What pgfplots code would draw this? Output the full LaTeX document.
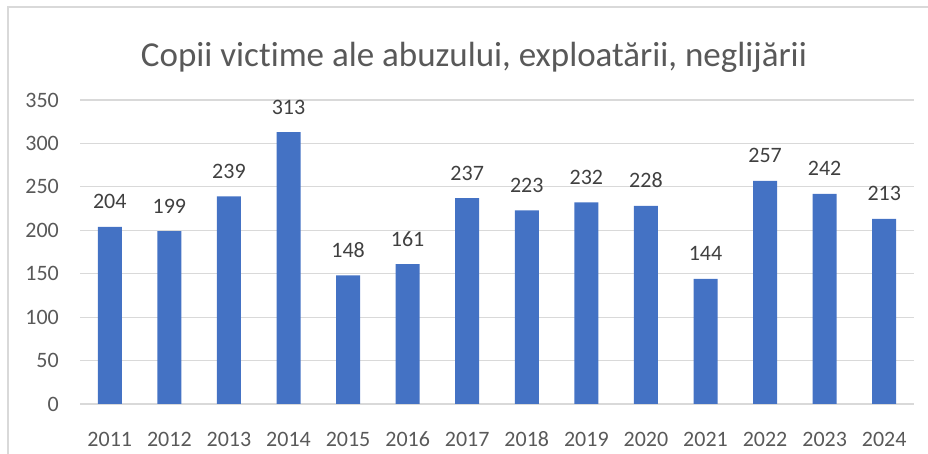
\documentclass[border=0pt]{standalone}
\usepackage{pgfplots}
\pgfplotsset{compat=1.18}
\usepackage{fontspec}
\setmainfont[Ligatures={NoCommon}]{Carlito}
\definecolor{barblue}{HTML}{4472C4}
\definecolor{gridgray}{HTML}{D9D9D9}
\definecolor{txtgray}{HTML}{595959}
\definecolor{lblgray}{HTML}{404040}
\begin{document}
\begin{tikzpicture}[x=1pt,y=1pt]
\useasboundingbox (0,0) rectangle (928,454);
\draw[gridgray, line width=1.5pt] (8,-20) rectangle (960,447);
\node[txtgray, font=\fontsize{35}{40}\selectfont, anchor=base] at (474,387) {Copii vict\kern0pt ime ale abuzului, exploatării, neglijării};
\begin{axis}[
  at={(80pt,50pt)}, anchor=south west,
  scale only axis, width=834pt, height=304pt,
  xmin=-0.5, xmax=13.5, ymin=0, ymax=350,
  ytick={0,50,...,350},
  xtick=data,
  xticklabels={2011,2012,2013,2014,2015,2016,2017,2018,2019,2020,2021,2022,2023,2024},
  ymajorgrids, grid style={gridgray, line width=1.2pt},
  axis line style={draw=none}, tick style={draw=none},
  /pgf/number format/assume math mode=true,
  ticklabel style={font=\fontsize{22}{26}\selectfont, text=txtgray, inner sep=0pt},
  yticklabel style={anchor=east, xshift=-21pt},
  xticklabel style={anchor=base, yshift=-38pt},
  ybar, bar width=24pt,
  nodes near coords,
  every node near coord/.append style={font=\fontsize{22}{26}\selectfont, text=lblgray, anchor=base, inner sep=0pt, yshift=18pt},
]
\addplot[fill=barblue, draw=none] coordinates {
(0,204) (1,199) (2,239) (3,313) (4,148) (5,161) (6,237) (7,223) (8,232) (9,228) (10,144) (11,257) (12,242) (13,213)};
\end{axis}
\end{tikzpicture}
\end{document}
